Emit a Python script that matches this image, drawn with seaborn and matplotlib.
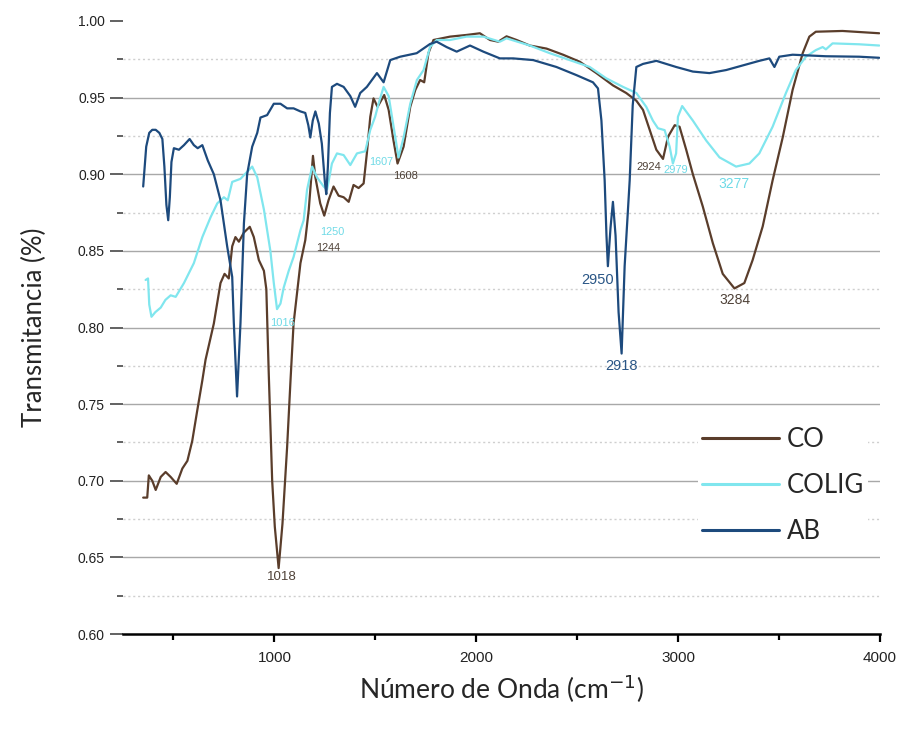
import matplotlib
matplotlib.use("Agg")
import matplotlib.pyplot as plt
import seaborn as sns
import pandas as pd

# ---------------- data ----------------
co_x = [350, 370, 376, 378, 385, 395, 412, 437, 461, 486, 516, 544, 569, 593, 618, 643, 659, 700,
        733, 753, 774, 791, 807, 824, 849, 878, 898, 923, 948, 960, 972, 989, 1002, 1021, 1040,
        1063, 1080, 1095, 1129, 1153, 1170, 1191, 1203, 1227, 1247, 1268, 1293, 1318, 1343, 1368,
        1392, 1417, 1442, 1458, 1475, 1491, 1511, 1544, 1566, 1590, 1610, 1640, 1673, 1698, 1722,
        1742, 1763, 1788, 1870, 1952, 2018, 2068, 2109, 2150, 2200, 2265, 2348, 2430, 2513, 2595,
        2677, 2743, 2793, 2826, 2859, 2892, 2925, 2950, 2983, 3007, 3040, 3073, 3122, 3172, 3221,
        3279, 3328, 3369, 3419, 3468, 3518, 3567, 3617, 3650, 3682, 3814, 3996]
co_y = [0.689, 0.689, 0.700, 0.7035, 0.702, 0.700, 0.694, 0.7025, 0.7057, 0.7025, 0.698, 0.708,
        0.713, 0.726, 0.746, 0.7655, 0.779, 0.8026, 0.829, 0.835, 0.832, 0.853, 0.859, 0.856,
        0.862, 0.8657, 0.859, 0.844, 0.837, 0.825, 0.770, 0.700, 0.670, 0.643, 0.672, 0.722,
        0.766, 0.8026, 0.842, 0.857, 0.8766, 0.912, 0.898, 0.881, 0.873, 0.883, 0.892, 0.886,
        0.885, 0.882, 0.893, 0.891, 0.894, 0.9136, 0.9375, 0.9495, 0.944, 0.9517, 0.942, 0.922,
        0.907, 0.918, 0.944, 0.955, 0.9615, 0.960, 0.979, 0.9876, 0.9898, 0.9909, 0.992, 0.9876,
        0.9865, 0.990, 0.9876, 0.984, 0.982, 0.978, 0.9734, 0.966, 0.958, 0.953, 0.948, 0.942,
        0.929, 0.916, 0.910, 0.9245, 0.932, 0.931, 0.916, 0.900, 0.879, 0.855, 0.835, 0.8255,
        0.829, 0.844, 0.866, 0.896, 0.924, 0.955, 0.979, 0.9898, 0.993, 0.9935, 0.992]

colig_x = [362, 374, 380, 391, 410, 437, 460, 486, 511, 552, 601, 643, 684, 717, 750, 769, 791,
           832, 865, 890, 915, 948, 980, 997, 1013, 1030, 1046, 1071, 1095, 1129, 1145, 1162,
           1187, 1211, 1244, 1261, 1285, 1310, 1343, 1376, 1409, 1450, 1475, 1499, 1516, 1541,
           1566, 1599, 1615, 1640, 1673, 1706, 1739, 1771, 1804, 1870, 1952, 2035, 2117, 2150,
           2265, 2364, 2463, 2562, 2644, 2727, 2793, 2842, 2875, 2900, 2933, 2958, 2974, 2990,
           2999, 3020, 3073, 3139, 3205, 3287, 3353, 3402, 3468, 3534, 3583, 3633, 3682, 3716,
           3732, 3765, 3897, 3996]
colig_y = [0.831, 0.832, 0.815, 0.807, 0.810, 0.813, 0.818, 0.821, 0.820, 0.829, 0.842, 0.859,
           0.872, 0.881, 0.885, 0.883, 0.895, 0.897, 0.9016, 0.905, 0.898, 0.877, 0.850, 0.829,
           0.812, 0.8156, 0.826, 0.837, 0.846, 0.8635, 0.870, 0.890, 0.905, 0.898, 0.892, 0.890,
           0.907, 0.9136, 0.9125, 0.906, 0.9136, 0.915, 0.929, 0.9375, 0.946, 0.957, 0.951,
           0.924, 0.911, 0.924, 0.946, 0.9615, 0.968, 0.983, 0.9876, 0.9876, 0.9898, 0.9898,
           0.9865, 0.9887, 0.984, 0.979, 0.9745, 0.970, 0.9626, 0.957, 0.953, 0.944, 0.935,
           0.930, 0.9288, 0.918, 0.907, 0.9136, 0.9375, 0.9445, 0.935, 0.922, 0.911, 0.905,
           0.907, 0.9136, 0.931, 0.953, 0.968, 0.9767, 0.981, 0.983, 0.9815, 0.9854, 0.9848, 0.984]

ab_x = [350, 365, 380, 395, 412, 430, 445, 455, 465, 474, 482, 490, 502, 527, 552, 580, 601, 620,
        643, 670, 700, 733, 766, 791, 799, 815, 832, 849, 865, 890, 915, 931, 964, 997, 1030,
        1063, 1095, 1129, 1153, 1168, 1178, 1190, 1203, 1220, 1235, 1250, 1257, 1265, 1275,
        1285, 1310, 1343, 1376, 1400, 1425, 1458, 1508, 1541, 1574, 1623, 1705, 1771, 1804,
        1853, 1903, 1969, 2035, 2117, 2183, 2282, 2397, 2496, 2578, 2603, 2620, 2636, 2645,
        2652, 2665, 2677, 2690, 2705, 2720, 2735, 2760, 2775, 2793, 2826, 2892, 2990, 3073,
        3155, 3238, 3320, 3402, 3452, 3477, 3501, 3567, 3732, 3897, 3996]
ab_y = [0.892, 0.918, 0.927, 0.929, 0.929, 0.927, 0.923, 0.905, 0.880, 0.870, 0.885, 0.908,
        0.917, 0.916, 0.919, 0.923, 0.919, 0.917, 0.919, 0.909, 0.900, 0.883, 0.853, 0.833,
        0.803, 0.755, 0.803, 0.868, 0.900, 0.918, 0.927, 0.937, 0.9386, 0.946, 0.946, 0.943,
        0.943, 0.941, 0.940, 0.932, 0.924, 0.935, 0.941, 0.933, 0.920, 0.895, 0.887, 0.905,
        0.940, 0.957, 0.959, 0.957, 0.951, 0.944, 0.953, 0.957, 0.966, 0.960, 0.9745, 0.9767,
        0.979, 0.985, 0.9865, 0.983, 0.980, 0.984, 0.980, 0.9756, 0.9756, 0.9745, 0.970,
        0.9647, 0.960, 0.956, 0.935, 0.896, 0.860, 0.840, 0.865, 0.882, 0.860, 0.810, 0.783,
        0.840, 0.896, 0.945, 0.970, 0.972, 0.974, 0.970, 0.967, 0.966, 0.968, 0.971, 0.974,
        0.9756, 0.970, 0.9767, 0.978, 0.977, 0.9767, 0.976]

series_names = ["CO", "COLIG", "AB"]
series_colors = ["#5a3d2b", "#80e6ee", "#1d4a7d"]

# peak labels: text, x, y, series
peak_text = ["1018", "1016", "1244", "1250", "1607", "1608", "2924", "2979", "3277", "3284", "2950", "2918"]
peak_x = [1035, 1040, 1267, 1287, 1529, 1648, 2854, 2987, 3279, 3284, 2602, 2720]
peak_y = [0.637, 0.803, 0.852, 0.862, 0.908, 0.899, 0.905, 0.903, 0.8935, 0.818, 0.831, 0.775]
peak_series = ["CO", "COLIG", "CO", "COLIG", "COLIG", "CO", "CO", "COLIG", "COLIG", "CO", "AB", "AB"]
peak_size = [9.5, 8, 7.8, 7.8, 7.8, 8, 8, 8, 10, 10, 10.5, 10.5]

y_ticks = [0.60, 0.65, 0.70, 0.75, 0.80, 0.85, 0.90, 0.95, 1.00]
x_ticks = [1000, 2000, 3000, 4000]

# ---------------- build table ----------------
frames = []
for name, xs, ys in [("CO", co_x, co_y), ("COLIG", colig_x, colig_y), ("AB", ab_x, ab_y)]:
    frames.append(pd.DataFrame({"x": xs, "y": ys, "serie": name}))
df = pd.concat(frames, ignore_index=True)

sns.set_style("white")
plt.rcParams["font.family"] = ["Liberation Sans", "DejaVu Sans"]

fig = plt.figure(figsize=(9.04, 7.30), dpi=100)
ax = fig.add_axes([123 / 904, 1 - 634 / 730, (880 - 123) / 904, (634 - 21) / 730])

palette = dict(zip(series_names, series_colors))
sns.lineplot(data=df, x="x", y="y", hue="serie", hue_order=series_names, palette=palette,
             sort=False, estimator=None, linewidth=1.6, ax=ax, legend=True)

ax.set_xlim(250, 4000)
ax.set_ylim(0.60, 1.00)

ax.set_yticks(y_ticks)
ax.set_yticks([0.625, 0.675, 0.725, 0.775, 0.825, 0.875, 0.925, 0.975], minor=True)
ax.set_yticklabels([f"{v:.2f}" for v in y_ticks])
ax.set_xticks(x_ticks)
ax.set_xticks([500, 1500, 2500, 3500], minor=True)
ax.set_xticklabels([str(v) for v in x_ticks])

ax.grid(True, which="major", axis="y", color="#a8a8a8", linewidth=1.0, linestyle="-")
ax.grid(True, which="minor", axis="y", color="#cfcfcf", linewidth=1.0, linestyle=(0, (1.5, 2)))
ax.grid(False, axis="x", which="both")
ax.set_axisbelow(True)
for t in ax.yaxis.get_major_ticks():
    if abs(t.get_loc() - 1.0) < 1e-6 or abs(t.get_loc() - 0.6) < 1e-6:
        t.gridline.set_visible(False)

for s in ["left", "top", "right"]:
    ax.spines[s].set_visible(False)
ax.spines["bottom"].set_color("black")
ax.spines["bottom"].set_linewidth(1.8)

ax.tick_params(axis="y", which="major", direction="out", length=9.5, width=1.3, color="#555555",
               labelsize=10, pad=3.5, labelcolor="#222222", left=True)
ax.tick_params(axis="y", which="minor", direction="out", length=4.5, width=1.3, color="#555555", left=True)
ax.tick_params(axis="x", which="major", direction="out", length=6, width=1.6, color="black",
               labelsize=11, pad=6, labelcolor="#222222", bottom=True)
ax.tick_params(axis="x", which="minor", direction="out", length=4, width=1.6, color="black", bottom=True)

ax.set_xlabel(r"Número de Onda (cm$^{-1}$)", fontsize=19, family=["Lato", "DejaVu Sans"], labelpad=6)
ax.set_ylabel("Transmitancia (%)", fontsize=18.5, family=["Lato", "DejaVu Sans"], labelpad=22)

text_colors = {"CO": "#4f4238", "COLIG": "#6fdae6", "AB": "#2a5686"}
for t, xx, yy, s, fs in zip(peak_text, peak_x, peak_y, peak_series, peak_size):
    ax.text(xx, yy, t, color=text_colors[s], fontsize=fs, ha="center", va="center")

handles, labels = ax.get_legend_handles_labels()
leg = ax.legend(handles, labels, loc="upper left", bbox_to_anchor=(685 / 904, 1 - 410 / 730),
                bbox_transform=fig.transFigure, frameon=True, facecolor="white", edgecolor="none",
                framealpha=1.0, fancybox=False, borderpad=0.15, handlelength=3.0, handletextpad=0.3,
                labelspacing=0.82, prop={"family": ["Lato", "DejaVu Sans"], "size": 18.5})
for lh in leg.get_lines():
    lh.set_linewidth(2.2)

fig.savefig("out.png", dpi=100)
